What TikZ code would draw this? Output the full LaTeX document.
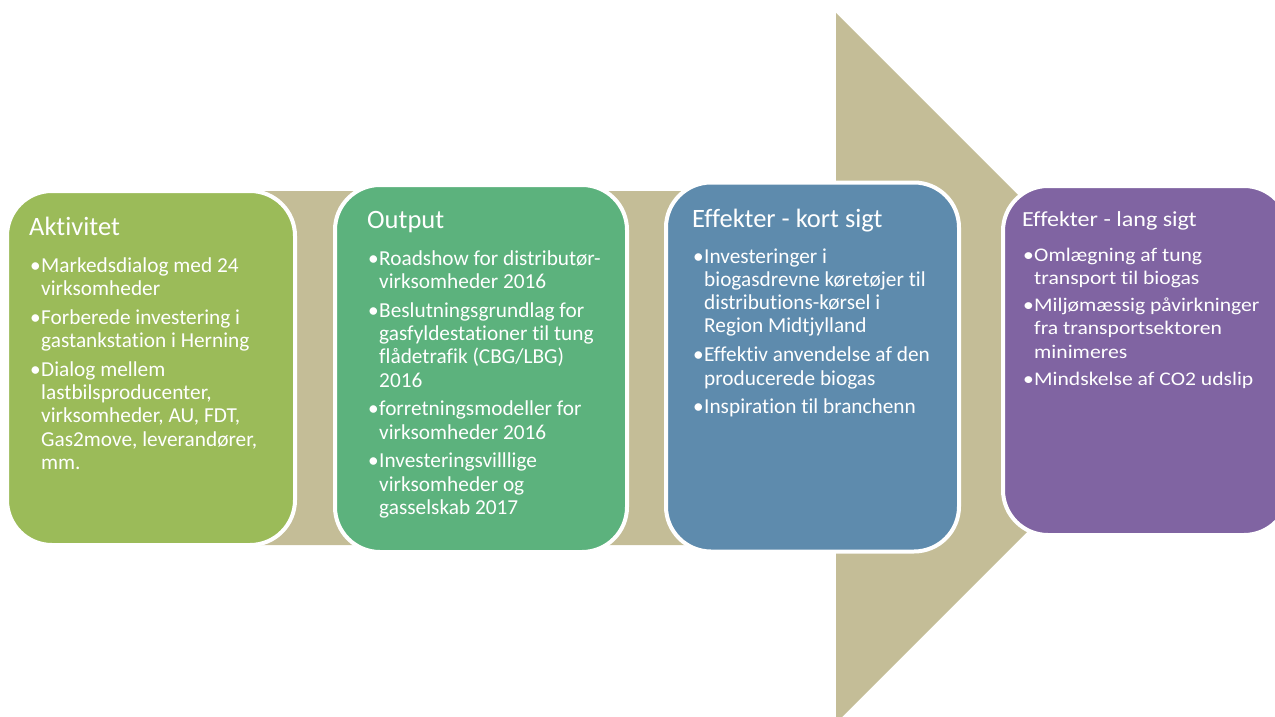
\documentclass[tikz,border=0pt]{standalone}
\usepackage{fontspec}
\setmainfont{Carlito}[Ligatures=NoCommon]
\newfontfamily\widefont{Carlito}[FakeStretch=1.12,Ligatures=NoCommon]
\definecolor{tanc}{HTML}{C4BD97}
\definecolor{gA}{HTML}{9BBB59}
\definecolor{gB}{HTML}{5CB27D}
\definecolor{bC}{HTML}{5E8BAD}
\definecolor{pD}{HTML}{8064A2}
\newcommand\bul[1]{\par\hangindent=12pt\hangafter=1\noindent\makebox[12pt][l]{\hspace{1pt}•}#1}
\newcommand\bullist[2]{\parbox[t]{#1}{\fontsize{21.3}{23.3}\selectfont\parskip=5.5pt\raggedright #2}}
\newcommand\wbullist[2]{\parbox[t]{#1}{\widefont\fontsize{19.3}{23.3}\selectfont\parskip=4pt\raggedright #2}}
\tikzset{
  box/.style={rectangle, draw=white, line width=4pt, rounded corners=45pt, inner sep=0pt},
  ttl/.style={anchor=base west, inner sep=0pt, text=white, font=\fontsize{26.5}{30}\selectfont},
  lst/.style={anchor=base west, inner sep=0pt, text=white},
}
\begin{document}
\begin{tikzpicture}[x=1pt,y=-1pt]
\useasboundingbox (0,0) rectangle (1275,717);
\clip (0,0) rectangle (1275,717);
% big arrow
\fill[tanc] (100,191) -- (836,191) -- (836,13) -- (1191,368) -- (836,723) -- (836,545) -- (100,545) -- cycle;
% boxes
\node[box, fill=gA, minimum width=288pt, minimum height=354pt] (b1) at (151,368) {};
\node[box, fill=gB, minimum width=292pt, minimum height=367pt] (b2) at (481,368.5) {};
\node[box, fill=bC, minimum width=293pt, minimum height=369pt] (b3) at (812.5,367) {};
\node[box, fill=pD, minimum width=286pt, minimum height=349pt] (b4) at (1146,360.5) {};
% titles
\node[ttl] (t1) at (29,235) {Aktivitet};
\node[ttl] (t2) at (367,228) {Output};
\node[ttl] (t3) at (692,227) {Effekter - kort sigt};
\node[ttl, font=\widefont\fontsize{21.5}{25}\selectfont] (t4) at (1022,226) {Effekter - lang sigt};
% lists
\node[lst] (l1) at (29,272) {\bullist{270pt}{%
\bul{Markedsdialog med 24\newline virksomheder}
\bul{Forberede investering i\newline gastankstation i Herning}
\bul{Dialog mellem\newline lastbilsproducenter,\newline virksomheder, AU, FDT,\newline Gas2move, leverandører,\newline mm.}}};
\node[lst] (l2) at (367,265) {\bullist{270pt}{%
\bul{Roadshow for distributør-\newline virksomheder 2016}
\bul{Beslutningsgrundlag for\newline gasfyldestationer til tung\newline flådetrafik (CBG/LBG)\newline 2016}
\bul{forretningsmodeller for\newline virksomheder 2016}
\bul{Investeringsvilllige\newline virksomheder og\newline gasselskab 2017}}};
\node[lst] (l3) at (692,263) {\bullist{270pt}{%
\bul{Investeringer i\newline biogasdrevne køretøjer til\newline distributions-kørsel i\newline Region Midtjylland}
\bul{Effektiv anvendelse af den\newline producerede biogas}
\bul{Inspiration til branchenn}}};
\node[lst] (l4) at (1022,261) {\wbullist{260pt}{%
\bul{Omlægning af tung\newline transport til biogas}
\bul{Miljømæssig påvirkninger\newline fra transportsektoren\newline minimeres}
\bul{Mindskelse af CO2 udslip}}};
\end{tikzpicture}
\end{document}
